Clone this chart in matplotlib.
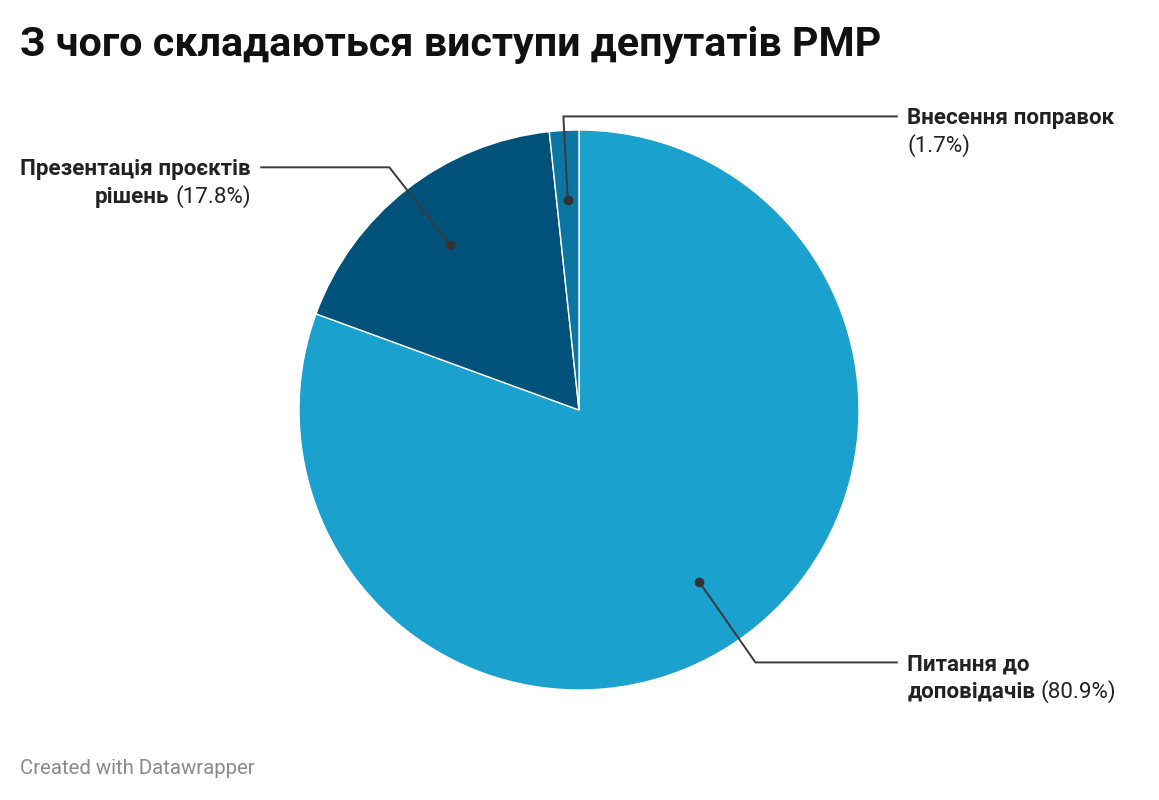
import numpy as np
import matplotlib.pyplot as plt
from matplotlib.transforms import offset_copy

plt.rcParams['font.family'] = ['Roboto', 'DejaVu Sans']

# data
categories = ['Питання до доповідачів', 'Презентація проєктів рішень', 'Внесення поправок']
shares = [80.9, 17.8, 1.7]
label_rows = [['Питання до', 'доповідачів'],
              ['Презентація проєктів', 'рішень'],
              ['Внесення поправок', '']]
pct_text = ['(80.9%)', '(17.8%)', '(1.7%)']

colors = ['#1aa1ce', '#01527a', '#0b76a2']
sides = ['right', 'left', 'right']
elbow_r = [1.1, 1.1, 1.05]

fig = plt.figure(figsize=(11.59, 8), dpi=100)
fig.patch.set_facecolor('white')

# pie axes: centre (579, 410) px, radius 280 px
W, H = 1159, 800
cx, cy, R = 579, 410, 280
ax = fig.add_axes([(cx - R) / W, (H - cy - R) / H, 2 * R / W, 2 * R / H])
wedges, _ = ax.pie(shares, colors=colors, startangle=90, counterclock=False,
                   radius=1, wedgeprops=dict(edgecolor='white', linewidth=1))
ax.set_xlim(-1, 1)
ax.set_ylim(-1, 1)
ax.set_aspect('equal')
ax.axis('off')

fig.text(20 / W, 1 - 45 / H, 'З чого складаються виступи депутатів РМР',
         fontsize=29.7, fontweight='bold', color='#111111', va='center', ha='left')
fig.text(20 / W, 1 - 769 / H, 'Created with Datawrapper',
         fontsize=14.7, color='#8a8a8a', va='center', ha='left')

fs = 16.1
line_gap = 27.5 * 72 / fig.dpi  # points
fig.canvas.draw()
rend = fig.canvas.get_renderer()


def draw_parts(x, y, parts, ha, dy):
    # parts: list of (text, weight); ha 'left' or 'right'
    dx = 0.0
    seq = parts if ha == 'left' else parts[::-1]
    for s, w in seq:
        if not s:
            continue
        tr = offset_copy(ax.transData, fig=fig, x=dx, y=dy, units='points')
        t = ax.text(x, y, s, transform=tr, ha=ha, va='baseline', fontsize=fs,
                    fontweight=w, color='#222222', clip_on=False)
        wpt = t.get_window_extent(rend).width * 72 / fig.dpi + 0.26 * fs
        dx += wpt if ha == 'left' else -wpt


for wdg, rows, pct, side, er in zip(wedges, label_rows, pct_text, sides, elbow_r):
    a = np.deg2rad((wdg.theta1 + wdg.theta2) / 2)
    dot = 0.75 * np.array([np.cos(a), np.sin(a)])
    elb = er * np.array([np.cos(a), np.sin(a)])
    sgn = 1 if side == 'right' else -1
    xend = sgn * 1.135
    ax.plot([dot[0], elb[0], xend], [dot[1], elb[1], elb[1]], color='#3a3a3a',
            lw=1.4, clip_on=False, solid_joinstyle='miter')
    ax.plot(dot[0], dot[1], 'o', color='#333333', ms=6, clip_on=False)
    ha = 'left' if side == 'right' else 'right'
    xt = sgn * 1.172
    base = -0.36 * fs
    if rows[1]:
        draw_parts(xt, elb[1], [(rows[0], 'bold')], ha, base)
        draw_parts(xt, elb[1], [(rows[1], 'bold'), (pct, 'normal')], ha, base - line_gap)
    else:
        draw_parts(xt, elb[1], [(rows[0], 'bold')], ha, base)
        draw_parts(xt, elb[1], [(pct, 'normal')], ha, base - line_gap)

fig.savefig('out.png', dpi=100, facecolor='white')
